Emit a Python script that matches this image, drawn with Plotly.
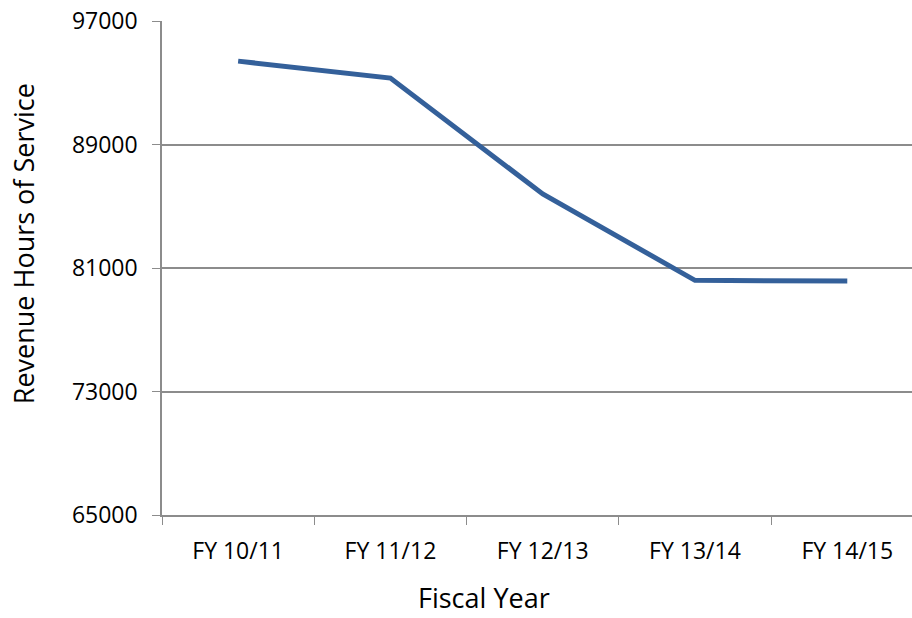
import plotly.graph_objects as go

# fiscal years and revenue hours
years = ['FY 10/11', 'FY 11/12', 'FY 12/13', 'FY 13/14', 'FY 14/15']
hours = [94400, 93300, 85800, 80200, 80150]
y_ticks = [65000, 73000, 81000, 89000, 97000]

grey = '#8c8c8c'
font = 'Open Sans, Calibri, sans-serif'

fig = go.Figure(go.Scatter(x=years, y=hours, mode='lines',
                           line=dict(color='#34609A', width=5),
                           hoverinfo='x+y'))

fig.update_layout(
    width=912, height=618,
    margin=dict(l=162, r=0, t=21, b=103),
    paper_bgcolor='white', plot_bgcolor='white',
    font=dict(family=font, size=23, color='black'),
    showlegend=False,
    annotations=[
        dict(text='Revenue Hours of Service', xref='paper', yref='paper',
             x=0, y=0.548, xshift=-139, textangle=-90, showarrow=False,
             font=dict(size=27), xanchor='center', yanchor='middle'),
        dict(text='Fiscal Year', xref='paper', yref='paper',
             x=0.429, y=0, yshift=-103, showarrow=False,
             font=dict(size=27), xanchor='center', yanchor='bottom'),
    ],
)

fig.update_xaxes(type='category', range=[-0.5, 4.425],
                 tickson='boundaries', ticks='outside', ticklen=8,
                 tickcolor=grey, showline=True, linecolor=grey, linewidth=1.5,
                 showgrid=False, zeroline=False, ticklabelstandoff=15)
fig.update_yaxes(range=[65000, 97000], tickvals=y_ticks,
                 ticktext=[str(v) for v in y_ticks],
                 ticks='outside', ticklen=8, tickcolor=grey,
                 showline=True, linecolor=grey, linewidth=1.5,
                 showgrid=True, gridcolor=grey, gridwidth=1.5, zeroline=False,
                 ticklabelstandoff=10)

# the page gets no body margin so the figure fills the window exactly
fig.write_html('out.html', config={'displayModeBar': False},
               post_script="document.body.style.margin='0';")
